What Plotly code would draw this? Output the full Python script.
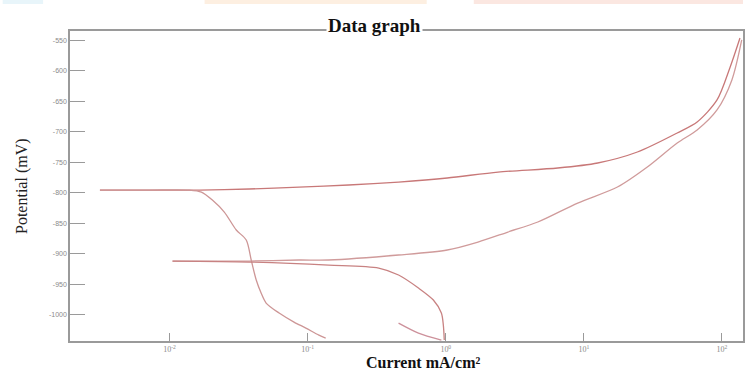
import plotly.graph_objects as go
import numpy as np

# Sweep 1, anodic branch (current mA/cm2, potential mV)
a1_i = [0.00313, 0.00718, 0.01644, 0.0377, 0.0865, 0.198, 0.455, 1.025, 2.39, 6.47, 12.6, 24.4, 47.4, 66.1, 92.1, 114, 135]
a1_v = [-795.6, -795.6, -795.6, -793.9, -790.7, -787.4, -782.5, -775.9, -766.1, -759.5, -751.3, -733.3, -702.1, -684.1, -648.0, -595.5, -546.4]

# Sweep 1, cathodic branch
c1_i = [0.00313, 0.00718, 0.0139, 0.0170, 0.0204, 0.0249, 0.0304, 0.0359, 0.0390, 0.0424, 0.0460, 0.050, 0.0621, 0.0796, 0.097, 0.1205, 0.135]
c1_v = [-795.6, -795.6, -795.6, -798.9, -812.0, -831.7, -861.1, -877.5, -910.3, -943.1, -964.4, -980.8, -997.2, -1012.0, -1021.8, -1033.3, -1038.2]

# Sweep 2, anodic branch
a2_i = [0.0105, 0.0166, 0.0377, 0.0865, 0.142, 0.455, 1.025, 1.71, 2.82, 4.64, 9.02, 17.5, 28.8, 47.4, 66.1, 92.1, 118, 139]
a2_v = [-912.0, -912.0, -912.0, -910.3, -910.3, -902.1, -893.9, -880.8, -864.4, -848.0, -816.9, -790.7, -757.9, -718.5, -697.2, -664.4, -615.2, -549.7]

# Sweep 2, cathodic branch
c2_i = [0.0105, 0.0377, 0.142, 0.327, 0.455, 0.634, 0.813, 0.929, 0.960, 0.975]
c2_v = [-912.0, -913.6, -918.5, -923.4, -934.9, -956.2, -975.9, -997.2, -1016.9, -1041.5]

# Short tail segment
t_i = [0.455, 0.634, 0.929]
t_v = [-1013.6, -1030.0, -1041.5]

y_ticks = [-550, -600, -650, -700, -750, -800, -850, -900, -950, -1000]
x_ticks = [0.01, 0.1, 1, 10, 100]
x_tick_text = ["10<sup>-2</sup>", "10<sup>-1</sup>", "10<sup>0</sup>", "10<sup>1</sup>", "10<sup>2</sup>"]

fig = go.Figure()
for xi, yi, col in [(a1_i, a1_v, "rgb(200,120,120)"), (c1_i, c1_v, "rgb(205,150,150)"),
                    (a2_i, a2_v, "rgb(208,155,155)"), (c2_i, c2_v, "rgb(200,130,130)"),
                    (t_i, t_v, "rgb(205,145,155)")]:
    fig.add_trace(go.Scatter(x=xi, y=yi, mode="lines", line=dict(color=col, width=1.3, shape="spline", smoothing=0.8),
                             showlegend=False, hoverinfo="skip"))

axis_col = "#9a9a9a"
fig.update_xaxes(type="log", range=[np.log10(0.00190), np.log10(142)], tickvals=x_ticks, ticktext=x_tick_text,
                 showline=True, linecolor=axis_col, linewidth=1.5, mirror=True,
                 ticks="inside", ticklen=8, tickcolor=axis_col, showgrid=False, zeroline=False,
                 tickfont=dict(family="Liberation Serif", size=8, color="#8a8a8a"))
fig.update_yaxes(range=[-1043, -535], tickvals=y_ticks, ticktext=[str(v) for v in y_ticks],
                 showline=True, linecolor=axis_col, linewidth=1.5, mirror=True,
                 ticks="inside", ticklen=15, tickcolor=axis_col, showgrid=False, zeroline=False,
                 tickfont=dict(family="Liberation Sans", size=7, color="#8a8a8a"))

fig.update_layout(
    width=746, height=374, margin=dict(l=70, r=1, t=31, b=33),
    paper_bgcolor="white", plot_bgcolor="white",
    annotations=[
        dict(text="<b>Data graph</b>", x=0.4527, y=1.0, xref="paper", yref="paper",
             xanchor="center", yanchor="middle", yshift=6, showarrow=False, bgcolor="white",
             font=dict(family="Liberation Serif", size=19, color="#111")),
        dict(text="<b>Current mA/cm²</b>", x=0.525, y=0, xref="paper", yref="paper",
             xanchor="center", yanchor="middle", yshift=-21, showarrow=False,
             font=dict(family="Liberation Serif", size=16, color="#111")),
        dict(text="Potential (mV)", x=0, y=0.5, xref="paper", yref="paper", textangle=-90,
             xanchor="center", yanchor="middle", xshift=-48, showarrow=False,
             font=dict(family="Liberation Serif", size=16, color="#222")),
    ],
    shapes=[
        dict(type="rect", xref="paper", yref="paper", x0=-0.1, x1=-0.04, y0=1.087, y1=1.1, line=dict(width=0), fillcolor="rgba(190,225,240,0.35)"),
        dict(type="rect", xref="paper", yref="paper", x0=0.2, x1=0.53, y0=1.087, y1=1.1, line=dict(width=0), fillcolor="rgba(250,215,180,0.4)"),
        dict(type="rect", xref="paper", yref="paper", x0=0.6, x1=1.0, y0=1.087, y1=1.1, line=dict(width=0), fillcolor="rgba(245,195,180,0.4)"),
    ],
)

fig.write_html("out.html", config={"displayModeBar": False},
               post_script="document.body.style.margin='0';document.body.style.overflow='hidden';")
